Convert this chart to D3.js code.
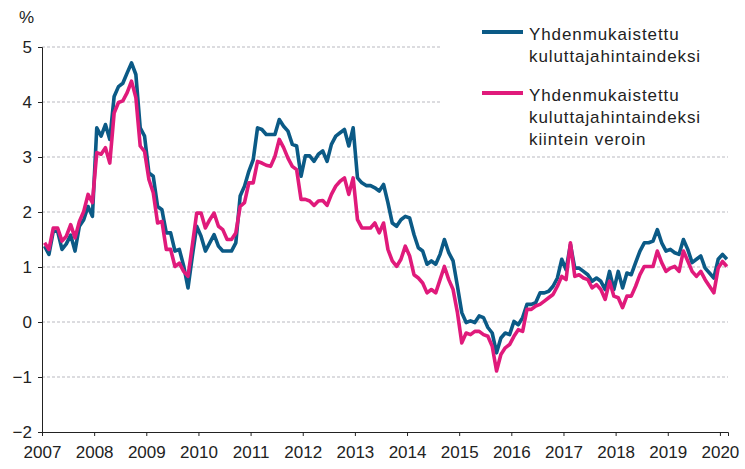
<!DOCTYPE html>
<html><head><meta charset="utf-8">
<script src="https://cdn.jsdelivr.net/npm/d3@7"></script>
<style>
html,body{margin:0;padding:0;background:#fff;}
svg{display:block;font-family:"Liberation Sans",Arial,sans-serif;}
</style></head>
<body>
<svg id="chart" width="745" height="469"></svg>
<script>
// Monthly data, Jan 2007 – Feb 2020 (annual change, %)
const startYear = 2007;
const yearTicks = [2007,2008,2009,2010,2011,2012,2013,2014,2015,2016,2017,2018,2019,2020];
const yTicks = [-2,-1,0,1,2,3,4,5];
const seriesNames = [
  ["Yhdenmukaistettu","kuluttajahintaindeksi"],
  ["Yhdenmukaistettu","kuluttajahintaindeksi","kiintein veroin"]
];
const hicp = [
  1.38,1.23,1.65,1.65,1.32,1.42,1.58,1.29,1.74,1.86,2.10,1.92,
  3.53,3.38,3.59,3.32,4.10,4.28,4.34,4.53,4.71,4.50,3.53,3.38,
  2.71,2.65,2.10,2.04,1.62,1.62,1.29,1.32,1.02,0.62,1.20,1.74,
  1.56,1.29,1.44,1.59,1.38,1.29,1.29,1.29,1.44,2.29,2.47,2.74,
  2.95,3.53,3.50,3.41,3.41,3.41,3.68,3.56,3.47,3.23,3.20,2.65,
  3.02,3.02,2.92,3.05,3.11,2.92,3.23,3.38,3.44,3.50,3.20,3.53,
  2.62,2.53,2.48,2.48,2.44,2.38,2.50,2.17,1.80,1.74,1.86,1.92,
  1.89,1.59,1.35,1.29,1.05,1.11,1.05,1.23,1.50,1.26,1.11,0.65,
  0.17,-0.01,0.02,-0.01,0.11,0.08,-0.10,-0.20,-0.56,-0.29,-0.20,-0.23,
  0.01,-0.05,0.08,0.32,0.32,0.35,0.53,0.53,0.56,0.65,0.80,1.14,
  0.95,1.41,0.98,0.98,0.92,0.86,0.74,0.80,0.74,0.59,0.92,0.59,
  0.92,0.62,0.89,0.86,1.08,1.29,1.44,1.44,1.47,1.68,1.44,1.29,
  1.32,1.26,1.23,1.50,1.32,1.08,1.14,1.20,0.98,0.89,0.80,1.14,
  1.23,1.14
];
const hicpCT = [
  1.44,1.32,1.71,1.71,1.47,1.56,1.77,1.53,1.83,2.01,2.32,2.17,
  3.08,3.05,3.17,2.89,3.80,3.99,4.02,4.17,4.38,4.08,3.20,3.10,
  2.59,2.35,1.80,1.83,1.32,1.32,1.01,1.07,0.92,0.83,1.40,1.98,
  1.98,1.71,1.86,1.98,1.74,1.68,1.50,1.50,1.62,2.10,2.17,2.53,
  2.53,2.92,2.89,2.85,2.83,3.01,3.32,3.17,2.98,2.83,2.77,2.23,
  2.23,2.20,2.12,2.20,2.21,2.12,2.32,2.47,2.56,2.62,2.32,2.62,
  1.86,1.71,1.71,1.71,1.80,1.62,1.80,1.32,1.11,1.01,1.14,1.38,
  1.20,0.86,0.80,0.71,0.53,0.59,0.53,0.77,1.01,0.77,0.59,0.17,
  -0.38,-0.20,-0.23,-0.17,-0.17,-0.23,-0.26,-0.44,-0.89,-0.59,-0.47,-0.41,
  -0.26,-0.14,-0.17,0.23,0.23,0.29,0.32,0.38,0.44,0.50,0.65,0.83,
  0.77,1.44,0.83,0.86,0.80,0.77,0.62,0.68,0.59,0.41,0.74,0.47,
  0.44,0.26,0.47,0.47,0.65,0.86,1.01,1.01,1.01,1.29,1.08,0.92,
  0.98,1.01,0.92,1.29,1.11,0.92,0.83,0.92,0.77,0.65,0.53,0.98,
  1.10,1.01
];
const colors = ["#0b5a86","#e01a7b"];

const svg = d3.select("#chart");
const x = d3.scaleLinear().domain([2007, 2020.155]).range([42, 728]);
const y = d3.scaleLinear().domain([-2, 5]).range([432, 47]);
const tOf = i => startYear + (i + 0.6) / 12;

// grid
svg.append("g").selectAll("line").data(yTicks.filter(d => d > -2)).join("line")
  .attr("x1", x(2007)).attr("x2", x.range()[1])
  .attr("y1", d => y(d)).attr("y2", d => y(d))
  .attr("stroke", "#b9b9c0").attr("stroke-width", 1).attr("stroke-dasharray", "3,2");

// legend background
svg.append("rect").attr("x", 440).attr("y", 0).attr("width", 305).attr("height", 150).attr("fill", "#fff");

// axes
const yAxis = svg.append("g").attr("transform", `translate(${x(2007)},0)`)
  .call(d3.axisLeft(y).tickValues(yTicks).tickSize(4).tickPadding(6).tickFormat(d3.format("d")));
const xAxis = svg.append("g").attr("transform", `translate(0,${y(-2)})`)
  .call(d3.axisBottom(x).tickValues(yearTicks).tickSize(4).tickPadding(6).tickFormat(d3.format("d")));
[yAxis, xAxis].forEach(a => {
  a.select(".domain").attr("stroke", "#222");
  a.selectAll(".tick line").attr("stroke", "#222");
  a.selectAll("text").attr("font-size", 17).attr("fill", "#222")
    .attr("font-family", "'Liberation Sans',Arial,sans-serif");
});
xAxis.selectAll("text").attr("dy", "0.95em");

svg.append("text").attr("x", 19).attr("y", 23).attr("font-size", 17).attr("fill", "#222").text("%");

// lines
const line = d3.line().x((d, i) => x(tOf(i))).y(d => y(d)).curve(d3.curveLinear);
[hicp, hicpCT].forEach((s, k) => {
  svg.append("path").datum(s).attr("d", line).attr("fill", "none")
    .attr("stroke", colors[k]).attr("stroke-width", 3.6).attr("stroke-linejoin", "round");
});

// legend
const legY = [32, 93];
seriesNames.forEach((lines, k) => {
  svg.append("line").attr("x1", 482).attr("x2", 523).attr("y1", legY[k]).attr("y2", legY[k])
    .attr("stroke", colors[k]).attr("stroke-width", 4);
  const t = svg.append("text").attr("x", 529).attr("y", legY[k] + 7.5)
    .attr("font-size", 17).attr("fill", "#222").attr("letter-spacing", "0.9");
  lines.forEach((ln, j) => t.append("tspan").attr("x", 529).attr("dy", j === 0 ? 0 : 22).text(ln));
});
</script>
</body></html>
